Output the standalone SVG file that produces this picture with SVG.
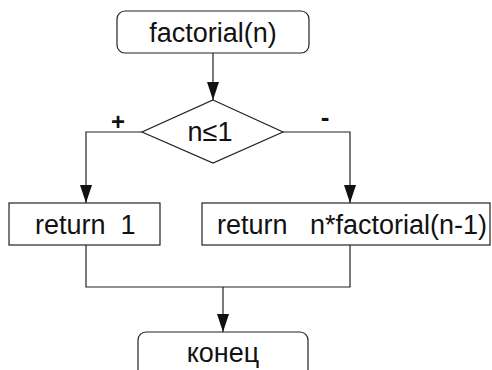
<svg xmlns="http://www.w3.org/2000/svg" width="492" height="370" viewBox="0 0 492 370">
<style>
.s{fill:#fff;stroke:#222;stroke-width:1.2}
.c{fill:none;stroke:#222;stroke-width:1.2}
.t{font-family:"Liberation Sans",Arial,sans-serif;font-size:27px;fill:#111;text-anchor:middle;white-space:pre}
.l{text-anchor:start}
</style>
<defs>
<marker id="ar" viewBox="0 0 18 12" refX="18" refY="6" markerWidth="18" markerHeight="12" orient="auto" markerUnits="userSpaceOnUse">
<path d="M0,0 L18,6 L0,12 z" fill="#111"/>
</marker>
</defs>
<rect width="492" height="370" fill="#fff"/>
<g id="connectors">
<path class="c" d="M213,53 V100" marker-end="url(#ar)"/>
<path class="c" d="M142,132 H86 V203" marker-end="url(#ar)"/>
<path class="c" d="M283,132 H350 V203" marker-end="url(#ar)"/>
<path class="c" d="M86,245 V287 H350 V245"/>
<path class="c" d="M223,287 V332" marker-end="url(#ar)"/>
<text class="t" x="118" y="130" style="font-size:24px;font-weight:bold">+</text>
<text class="t" x="325" y="126" style="font-size:26px;font-weight:bold">-</text>
</g>
<g id="start">
<rect class="s" x="117" y="11" width="192" height="42" rx="8"/>
<text class="t" x="213" y="42">factorial(n)</text>
</g>
<g id="cond">
<polygon class="s" points="213,100 283,132 213,163 142,132"/>
<text class="t" x="210" y="141">n≤1</text>
</g>
<g id="ret1">
<rect class="s" x="9" y="203" width="151" height="42"/>
<text class="t l" x="35" y="234">return  1</text>
</g>
<g id="ret2">
<rect class="s" x="202" y="203" width="288" height="42"/>
<text class="t l" x="217" y="234">return   n*factorial(n-1)</text>
</g>
<g id="end">
<rect class="s" x="138" y="332" width="170" height="50" rx="8"/>
<text class="t" x="223" y="362">конец</text>
</g>
</svg>
